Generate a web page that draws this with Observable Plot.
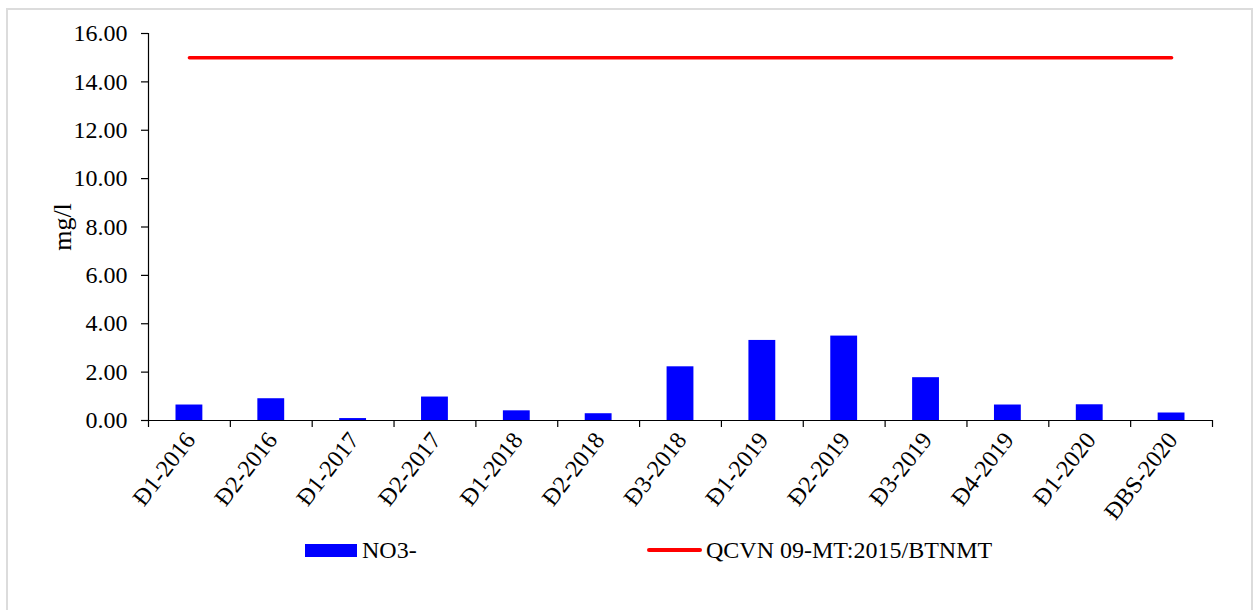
<!DOCTYPE html>
<html>
<head>
<meta charset="utf-8">
<script src="https://cdn.jsdelivr.net/npm/d3@7"></script>
<script src="https://cdn.jsdelivr.net/npm/@observablehq/plot@0.6"></script>
<style>
  html, body { margin: 0; padding: 0; background: #fff; }
  body { width: 1255px; height: 610px; position: relative; overflow: hidden; font-family: "Liberation Serif", "Times New Roman", serif; }
  #frame { position: absolute; left: 6px; top: 8px; width: 1247px; height: 610px; border: 2px solid #dcdcdc; box-sizing: border-box; }
  #chart { position: absolute; left: 0; top: 0; }
  #legend { position: absolute; left: 0; top: 538px; height: 24px; width: 1255px; font-size: 24px; color: #000; }
  .item { position: absolute; top: 0; height: 24px; display: flex; align-items: center; line-height: 24px; }
  .sw-bar { width: 52px; height: 13px; background: #0000ff; margin-right: 5px; }
  .sw-line { width: 55px; height: 4px; background: #ff0000; border-radius: 2px; margin-right: 4px; }
</style>
</head>
<body>
<div id="frame"></div>
<div id="chart"></div>
<div id="legend"></div>
<script>
const categories = ["Đ1-2016","Đ2-2016","Đ1-2017","Đ2-2017","Đ1-2018","Đ2-2018","Đ3-2018","Đ1-2019","Đ2-2019","Đ3-2019","Đ4-2019","Đ1-2020","ĐBS-2020"];
const no3Values = [0.64, 0.90, 0.08, 0.97, 0.40, 0.28, 2.22, 3.31, 3.49, 1.77, 0.64, 0.65, 0.31];
const qcvnValues = [15, 15, 15, 15, 15, 15, 15, 15, 15, 15, 15, 15, 15];
const yTicks = [0, 2, 4, 6, 8, 10, 12, 14, 16];
const seriesNames = ["NO3-", "QCVN 09-MT:2015/BTNMT"];
const yLabel = "mg/l";

const bars = categories.map((c, i) => ({cat: c, value: no3Values[i]}));
const limit = categories.map((c, i) => ({cat: c, value: qcvnValues[i]}));

const W = 1255, H = 535, ML = 148, MR = 43, MT = 33, MB = 115;
const step = (W - ML - MR) / categories.length;

const chart = Plot.plot({
  width: W, height: H,
  marginLeft: ML, marginRight: MR, marginTop: MT, marginBottom: MB,
  style: { fontFamily: "'Liberation Serif', 'Times New Roman', serif", fontSize: "24px", color: "#000", background: "transparent" },
  x: { type: "band", domain: categories, padding: 0, round: false, label: null },
  y: { domain: [0, 16], label: null },
  marks: [
    Plot.barY(bars, { x: "cat", y: "value", fill: "#0000ff", insetLeft: 27.5, insetRight: 27.5 }),
    Plot.lineY(limit, { x: "cat", y: "value", stroke: "#ff0000", strokeWidth: 3.5 }),
    Plot.ruleY([0], { stroke: "#000", strokeWidth: 1.2 }),
    Plot.ruleX([categories[0]], { dx: -step / 2, y1: 0, y2: 16, stroke: "#000", strokeWidth: 1.2 }),
    Plot.axisY({ ticks: yTicks, tickFormat: d3.format(".2f"), tickSize: 7, tickPadding: 14, label: null, strokeWidth: 1.2, fontSize: 24 }),
    Plot.axisX({ tickSize: 7, tickFormat: () => "", dx: -step / 2, label: null, strokeWidth: 1.2 }),
    Plot.axisX([categories[categories.length - 1]], { tickSize: 7, tickFormat: () => "", dx: step / 2, label: null, strokeWidth: 1.2 }),
    Plot.axisX({ tickSize: 0, tickPadding: 15, tickRotate: -52, label: null, fontSize: 24, dx: 1 }),
    Plot.text([yLabel], { frameAnchor: "left", textAnchor: "middle", dx: -86, rotate: -90, fontSize: 26 })
  ]
});
document.getElementById("chart").appendChild(chart);

const legend = document.getElementById("legend");
legend.innerHTML =
  `<div class="item" style="left:305px"><div class="sw-bar"></div><span>${seriesNames[0]}</span></div>` +
  `<div class="item" style="left:647px"><div class="sw-line"></div><span>${seriesNames[1]}</span></div>`;
</script>
</body>
</html>
